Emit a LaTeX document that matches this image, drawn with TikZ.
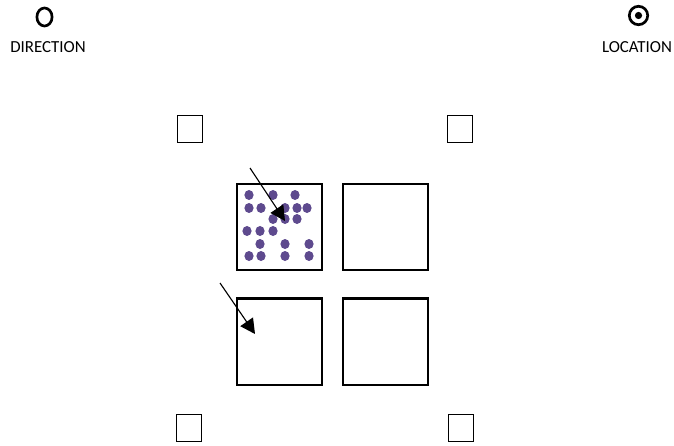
\documentclass[tikz,border=0pt]{standalone}
\usepackage{fontspec}
\setmainfont{Carlito}
\usetikzlibrary{arrows.meta, positioning, shapes.geometric}
\definecolor{dotpurple}{HTML}{5E4A8E}

\begin{document}
\begin{tikzpicture}[
  x=0.025cm, y=-0.025cm,
  node distance=0.48cm and 0.48cm,
  well/.style={
    rectangle, draw=black, line width=1.5pt,
    minimum width=2.12cm, minimum height=2.17cm, inner sep=0pt
  },
  marker/.style={
    rectangle, draw=black, line width=1.2pt,
    minimum width=0.63cm, minimum height=0.68cm, inner sep=0pt
  },
  drop/.style={ellipse, fill=dotpurple, minimum width=0.23cm,
    minimum height=0.25cm, inner sep=0pt},
  legend/.style={font=\fontsize{12}{14}\selectfont, text=black, inner sep=0pt},
  arr/.style={-{Triangle[length=0.37cm, width=0.38cm]}, line width=0.8pt}
]
  \useasboundingbox (0,0) rectangle (674,445);

  % Legend
  \node[ellipse, draw, line width=1.9pt, minimum width=0.38cm,
    minimum height=0.45cm, inner sep=0pt] (dirsym) at (44.5,17) {};
  \node[legend] (dirtext) at (48,47) {DIRECTION};
  \node[circle, draw, line width=1.9pt, minimum size=0.46cm,
    inner sep=0pt] (locsym) at (638.5,15.5) {};
  \node[circle, fill=black, minimum size=0.18cm, inner sep=0pt]
    (locdot) at (locsym.center) {};
  \node[legend] (loctext) at (637,47) {LOCATION};

  % Corner markers
  \node[marker] (mtl) at (190,129) {};
  \node[marker] (mtr) at (460,129) {};
  \node[marker] (mbl) at (189,428) {};
  \node[marker] (mbr) at (461,428) {};

  % Wells
  \node[well] (wtl) at (279.5,227) {};
  \node[well, right=of wtl] (wtr) {};
  \node[well, below=0.65cm of wtl] (wbl) {};
  \node[well, right=of wbl] (wbr) {};

  % Spots in the first well
  \foreach \px/\py [count=\k] in {
      249/195, 273/195, 295/195,
      249/208, 261/208, 285/208, 297/208, 307/208,
      273/219, 285/219, 297/219,
      247/231, 260/231, 273/231,
      260/244, 285/244, 309/244,
      249/256, 261/256, 285/256, 309/256}
    \node[drop] (spot\k) at (\px,\py) {};

  % Pointers
  \coordinate (tailA) at (250,168);
  \coordinate (tipA) at (285,221);
  \coordinate (tailB) at (220,283);
  \coordinate (tipB) at (255,334);
  \draw[arr] (tailA) -- (tipA);
  \draw[arr] (tailB) -- (tipB);
\end{tikzpicture}
\end{document}
